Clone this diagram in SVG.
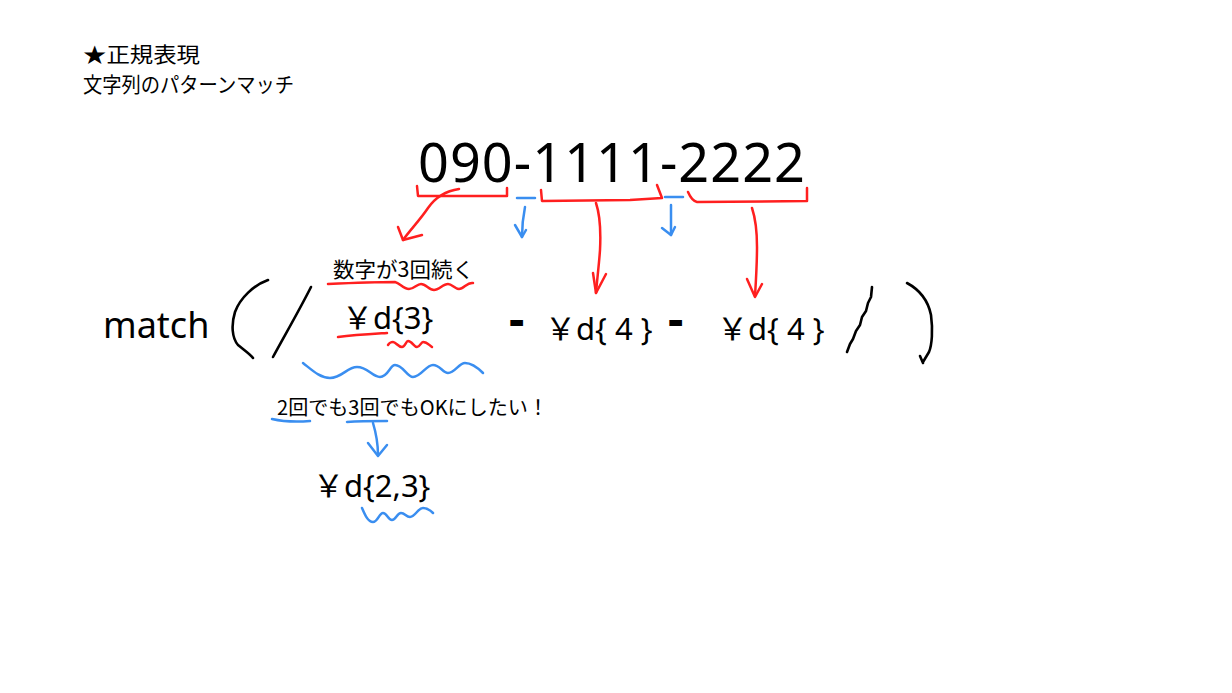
<svg xmlns="http://www.w3.org/2000/svg" width="1232" height="693" viewBox="0 0 1232 693">
<style>
.jp{font-family:"Noto Sans CJK JP","Noto Sans",sans-serif;fill:#000}
.lat{font-family:"Noto Sans","Noto Sans CJK JP",sans-serif;fill:#000}
.red{fill:none;stroke:#ff1f1f;stroke-width:2.5;stroke-linecap:round;stroke-linejoin:round}
.blue{fill:none;stroke:#3a8ef0;stroke-width:2.5;stroke-linecap:round;stroke-linejoin:round}
.blk{fill:none;stroke:#000;stroke-width:2.6;stroke-linecap:round;stroke-linejoin:round}
</style>
<rect width="1232" height="693" fill="#fff"/>
<g id="title">
<text class="jp" x="83" y="62" font-size="21" textLength="117" lengthAdjust="spacingAndGlyphs">★正規表現</text>
<text class="jp" x="83" y="92" font-size="21" textLength="211" lengthAdjust="spacingAndGlyphs">文字列のパターンマッチ</text>
</g>
<g id="phone">
<text class="lat" x="418" y="182" font-size="54" textLength="387" lengthAdjust="spacing">090-1111-2222</text>
</g>
<g id="brackets">
<path class="red" d="M417,186 L418,196 L507,196 L507,188"/>
<path class="blue" d="M517,198 L535,198" stroke-width="4"/>
<path class="red" d="M541,190 L542,201 L630,200 L662,198 L657,185"/>
<path class="blue" d="M665,197 L683,197"/>
<path class="red" d="M688,192 Q692,201 697,202 L807,201 L807,188"/>
</g>
<g id="connectors">
<path class="red" d="M459,189 C445,191 435,198 428,208 C420,220 410,230 403,240"/>
<path class="red" d="M398,227 L403,240 L422,235"/>
<path class="blue" d="M525,207 C523,217 522,227 522,237"/>
<path class="blue" d="M515,225 L522,237 L526,230"/>
<path class="red" d="M596,203 C600,215 601,230 600,250 C599,265 597,280 596,293"/>
<path class="red" d="M593,273 L596,293 L606,274"/>
<path class="blue" d="M671,205 L671,235"/>
<path class="blue" d="M662,228 L671,235 L675,227"/>
<path class="red" d="M752,208 C756,220 757,235 757,247 C757,265 756,280 755,296"/>
<path class="red" d="M747,279 L755,297 L762,284"/>
<path class="blue" d="M373,423 C376,433 378,445 378,455"/>
<path class="blue" d="M368,443 L378,456 L387,445"/>
</g>
<g id="match-expr">
<text class="lat" x="103" y="338" font-size="36">match</text>
<path class="blk" d="M268,280 C254,285 240,298 235,312 C231,325 232,338 238,345 C244,350 250,354 253,358"/>
<path class="blk" d="M311,287 C301,307 285,335 273,357"/>
<text class="jp" x="333" y="277" font-size="21" textLength="141" lengthAdjust="spacingAndGlyphs">数字が3回続く</text>
<path class="red" d="M328,284 C350,283 375,282 395,282 C400,283 403,289 409,289 C414,289 417,284 421,284 C426,284 429,290 434,290 C439,290 443,284 448,284 C452,284 455,289 459,289 C464,289 467,282 473,283"/>
<text class="lat" x="342" y="329" font-size="31">￥d{3}</text>
<path class="red" d="M338,337 C355,335 372,334 387,333"/>
<path class="red" d="M388,345 C390,342 391,342 393,342 C396,342 398,347 402,347 C405,347 406,341 408,341 C412,341 414,347 417,347 C420,347 421,342 423,342 C427,342 429,345 432,347"/>
<path class="blue" d="M303,363 C312,370 320,378 330,378 C342,378 347,367 357,367 C368,367 372,377 380,377 C388,377 390,365 395,365 C403,365 407,377 413,377 C421,377 426,365 433,365 C440,365 443,373 448,373 C455,373 459,363 465,363 C472,363 478,368 483,373"/>
<text class="lat" x="509" y="336" font-size="48" font-weight="bold">-</text>
<text class="lat" x="545" y="340" font-size="31">￥d{ 4 }</text>
<text class="lat" x="668" y="336" font-size="48" font-weight="bold">-</text>
<text class="lat" x="717" y="340" font-size="31">￥d{ 4 }</text>
<path class="blk" d="M872,287 L871,297 L868,303 L866,311 L862,317 L860,325 L856,331 L853,339 L850,344 L847,352"/>
<path class="blk" d="M907,283 C920,290 928,300 931,315 C933,330 932,345 929,352 L923,362 M920,356 L923,363"/>
</g>
<g id="note">
<text class="jp" x="277" y="415" font-size="20" textLength="271" lengthAdjust="spacingAndGlyphs">2回でも3回でもOKにしたい！</text>
<path class="blue" d="M272,419 C285,422 298,422 310,421"/>
<path class="blue" d="M347,422 C360,421 374,421 387,421"/>
<text class="lat" x="313" y="497" font-size="31">￥d{2,3}</text>
<path class="blue" d="M362,508 C365,515 368,522 373,522 C378,522 379,513 383,513 C387,513 388,520 392,520 C396,520 397,513 401,513 C405,513 406,517 410,517 C415,517 418,508 423,508 C428,508 431,511 433,513"/>
</g>
</svg>
